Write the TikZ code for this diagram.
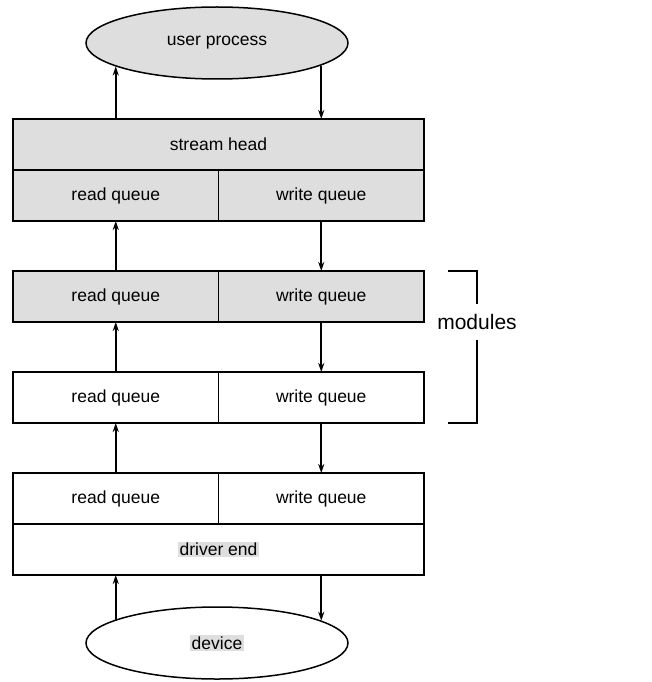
\documentclass[tikz,border=0pt]{standalone}
\usepackage{fontspec}
\setmainfont{Liberation Sans}
\usetikzlibrary{arrows.meta, positioning, shapes.geometric}
\definecolor{myshade}{gray}{0.87}
\setlength{\fboxsep}{1.5pt}

\begin{document}
\begin{tikzpicture}[x=1pt, y=-1pt,
  half/.style={draw, line width=1.5pt, outer sep=0pt, inner sep=0pt,
    minimum width=205.5pt, minimum height=51pt, font=\fontsize{17.5}{20}\selectfont},
  full/.style={half, minimum width=411pt},
  proc/.style={draw, ellipse, line width=1.5pt, minimum width=262pt, minimum height=72pt,
    font=\fontsize{17.5}{20}\selectfont},
  arr/.style={-{Stealth[length=9pt, width=6pt]}, line width=1.7pt}
]
\useasboundingbox (0,0) rectangle (651,682);
\node[proc, fill=myshade] (user) at (217,43) {user process};
\node[full, fill=myshade] (head) at (218.5,144.5) {stream head};
\node[half, fill=myshade, anchor=north west] (hrd) at (head.south west) {read queue};
\node[half, fill=myshade, right=0pt of hrd] (hwr) {write queue};
\node[half, fill=myshade, below=50pt of hrd] (m1rd) {read queue};
\node[half, fill=myshade, right=0pt of m1rd] (m1wr) {write queue};
\node[half, below=50pt of m1rd] (m2rd) {read queue};
\node[half, right=0pt of m2rd] (m2wr) {write queue};
\node[half, below=50pt of m2rd] (drd) {read queue};
\node[half, right=0pt of drd] (dwr) {write queue};
\node[full, anchor=north west] (dend) at (drd.south west) {\colorbox{myshade}{driver end}};
\node[proc] (dev) at (217,643) {\colorbox{myshade}{device}};
% read side goes up, write side goes down
\draw[arr] (head.north -| hrd) -- (hrd |- user.193);
\draw[arr] (hwr |- user.347) -- (head.north -| hwr);
\draw[arr] (m1rd) -- (hrd);
\draw[arr] (hwr) -- (m1wr);
\draw[arr] (m2rd) -- (m1rd);
\draw[arr] (m1wr) -- (m2wr);
\draw[arr] (drd) -- (m2rd);
\draw[arr] (m2wr) -- (dwr);
\draw[arr] (drd |- dev.168) -- (dend.south -| drd);
\draw[arr] (dend.south -| dwr) -- (dwr |- dev.12);
% bracket
\node[font=\fontsize{21}{24}\selectfont, inner sep=0pt, minimum height=36pt] (mods) at (477,322) {modules};
\coordinate (brtop) at ([xshift=24pt]m1wr.north east);
\coordinate (brbot) at ([xshift=24pt]m2wr.south east);
\draw[line width=1.5pt] (brtop) -| (mods.north);
\draw[line width=1.5pt] (mods.south) |- (brbot);
\end{tikzpicture}
\end{document}
